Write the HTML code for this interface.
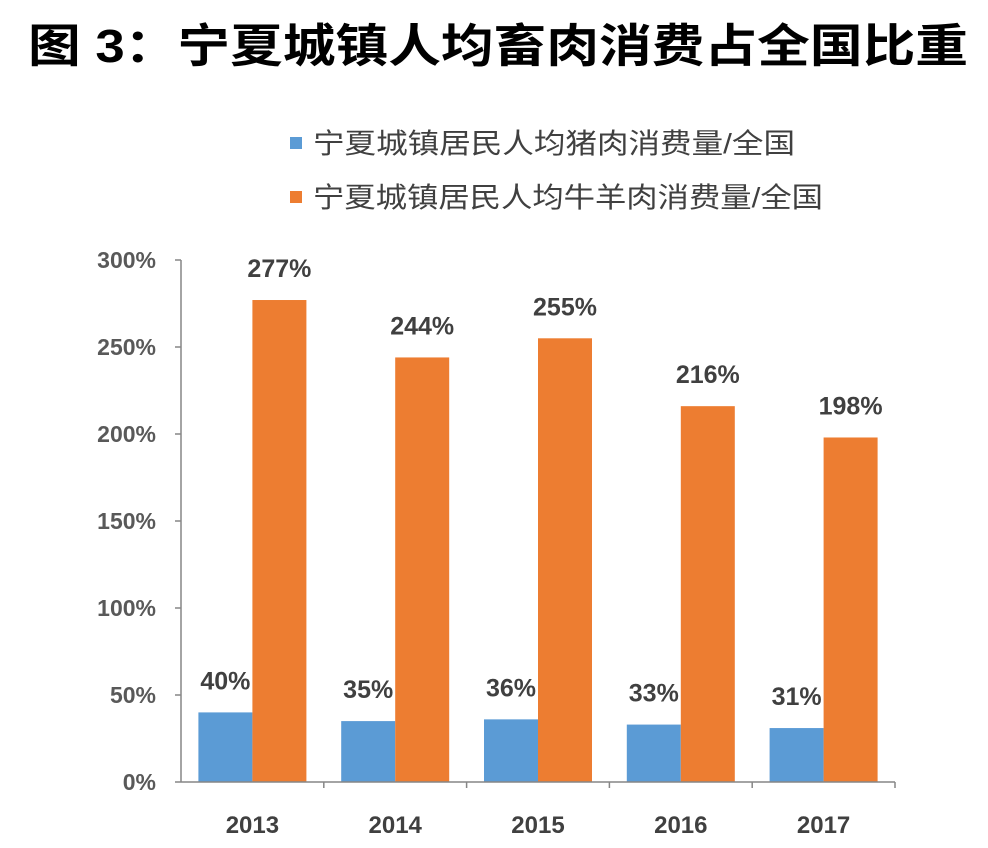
<!DOCTYPE html>
<html><head><meta charset="utf-8">
<style>
html,body{margin:0;padding:0;background:#fff;}
body{width:988px;height:848px;overflow:hidden;position:relative;font-family:"Liberation Sans","Noto Sans CJK SC",sans-serif;}
</style></head><body>
<svg id="chart" width="988" height="848" style="position:absolute;left:0;top:0;font-family:'Liberation Sans','Noto Sans CJK SC',sans-serif">
<text x="28" y="62" font-size="46" font-weight="bold" fill="#000" textLength="940" lengthAdjust="spacingAndGlyphs">图 3：宁夏城镇人均畜肉消费占全国比重</text>
</svg>
<script>
const categories=["2013","2014","2015","2016","2017"];
const porkValues=[40,35,36,33,31];
const beefMuttonValues=[277,244,255,216,198];
const yTicks=[0,50,100,150,200,250,300];
const seriesNames=["宁夏城镇居民人均猪肉消费量/全国","宁夏城镇居民人均牛羊肉消费量/全国"];
const colors=["#5B9BD5","#ED7D31"];

const NS="http://www.w3.org/2000/svg";
const svg=document.getElementById('chart');
const x0=181,x1=895,y0=782,yTop=260;
function yScale(v){return y0-(v/300)*(y0-yTop);}
const bandW=(x1-x0)/categories.length;
function xCenter(i){return x0+bandW*(i+0.5);}
const barW=54;
function mk(tag,attrs,parent){const e=document.createElementNS(NS,tag);for(const k in attrs)e.setAttribute(k,attrs[k]);(parent||svg).appendChild(e);return e;}

const yAxis=mk('line',{x1:x0,y1:yTop,x2:x0,y2:y0,stroke:'#868686','stroke-width':1.5});


yTicks.forEach(t=>{
  const y=yScale(t);
  const tk=mk('line',{x1:x0-6,y1:y,x2:x0,y2:y,stroke:'#868686','stroke-width':1.5});
  
  
  const lb=mk('text',{x:156,y:y+8,'text-anchor':'end','font-size':23,'font-weight':'bold',fill:'#595959'});
  lb.textContent=t+'%';
  
  
});

categories.forEach((c,i)=>{
  const cx=xCenter(i);
  [porkValues[i],beefMuttonValues[i]].forEach((v,s)=>{
    const bx=s===0?cx-barW:cx;
    const r=mk('rect',{x:bx,y:yScale(v),width:barW,height:y0-yScale(v),fill:colors[s]});
    
    
    const t=mk('text',{x:bx+barW/2,y:yScale(v)-23,'text-anchor':'middle','font-size':25,'font-weight':'bold',fill:'#404040'});
    t.textContent=v+'%';
    
    
  });
  const xl=mk('text',{x:cx,y:833,'text-anchor':'middle','font-size':24,'font-weight':'bold',fill:'#404040'});
  xl.textContent=c;
  
  
  const tk=mk('line',{x1:x0+bandW*(i+1),y1:y0,x2:x0+bandW*(i+1),y2:y0+6,stroke:'#868686','stroke-width':1.5});
  
  
});
const xAxis=mk('line',{x1:x0,y1:y0,x2:x1,y2:y0,stroke:'#868686','stroke-width':1.5});



const legendLens=[482,510];
seriesNames.forEach((n,s)=>{
  const ly=143+s*54;
  const sq=mk('rect',{x:290,y:ly-6,width:12,height:12,fill:colors[s]});
  
  
  const t=mk('text',{x:313,y:ly+10,'font-size':28,fill:'#404040',textLength:legendLens[s],lengthAdjust:'spacingAndGlyphs'});
  t.textContent=n;
  
  
});
</script>
</body></html>
